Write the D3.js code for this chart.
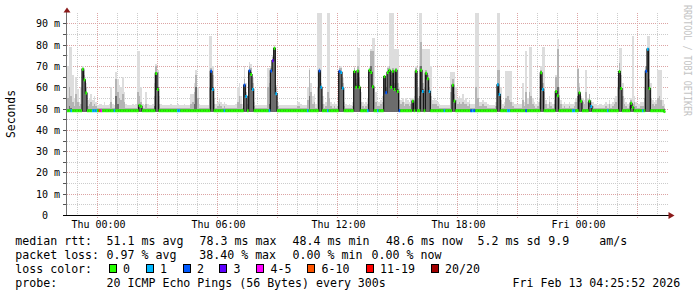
<!DOCTYPE html>
<html>
<head>
<meta charset="utf-8">
<script src="https://cdn.jsdelivr.net/npm/d3@7"></script>
<style>
  body { margin: 0; background: #ffffff; }
  svg text { font-family: "DejaVu Sans Mono", "Liberation Mono", monospace; }
</style>
</head>
<body>
<svg id="chart" width="697" height="297"></svg>
<script>
/* one sample every 300s, starting Wed 22:30 */
let medianRtt = [
  49,49,49,49,49,49,49,49,49,68.5,
  63.5,57.3,49,49,49,49,49,49,49,49,
  49,49,49,49,49,49,49,49,49,49,
  49,49,49,49,49,49,49,49,49,49,
  49,49,49,51.5,51,49,49,49,49,49,
  49,49,49,66.5,59,49,49,49,49,49,
  49,49,49,49,49,49,49,49,49,49,
  49,49,49,49,49,49,49,49,49,49,
  49,49,49,49,49,49,67.5,59,49,49,
  49,49,49,49,49,49,49,49,49,49,
  49,49,49,49,49,49,61,55.7,49,67.7,
  66,59,49,49,49,49,49,49,49,49,
  49,49,67.7,72.5,78.3,57,49,49,49,49,
  49,49,49,49,49,49,49,49,49,49,
  49,49,49,49,49,49,49,49,49,49,
  49,67.7,60,49,49,49,49,49,49,49,
  49,49,49,67.5,67,59.5,49,49,49,49,
  49,49,67.4,60,67.7,60,49,49,49,49,
  49,68,67,60.3,49,49,49,49,49,49,
  65,57.4,67,68,60,67.5,59,68,58,49,
  49,49,49,49,49,49,49,53.5,49,67.5,
  49,49,68,58,49,66.6,64,58,49,49,
  49,49,49,49,49,49,49,49,49,49,
  49,61,53.5,49,49,49,49,49,49,49,
  49,49,49,49,49,49,49,49,49,49,
  49,49,49,49,49,49,49,49,61.2,56.6,
  49,49,49,49,49,49,49,49,49,49,
  49,49,49,49,49,49,49,49,49,49,
  49,49,49,49,66.8,59,49,49,49,49,
  49,49,49,58,56,49,49,49,49,49,
  49,49,49,49,49,49,49,57.4,53.5,49,
  49,49,49,53.5,51,49,49,49,49,49,
  49,49,49,49,49,49,49,49,49,49,
  49,67.4,59.4,49,49,49,49,49,52.5,50.5,
  49,49,49,49,49,49,49,67.5,77.9,59.4,
  49,49,49,49,49,49,49,49,48.6
];

/* lost pings (of 20) per sample */
let lostPings = [
  0,0,1,0,0,0,0,0,0,0, 0,0,0,0,0,1,1,1,0,8,
  4,0,0,0,0,0,0,0,1,0, 0,0,0,0,0,0,0,0,0,0,
  0,0,0,0,0,0,0,0,0,0, 0,0,0,0,0,0,0,0,0,0,
  0,0,0,0,0,0,1,1,0,0, 0,0,0,0,0,0,0,0,0,0,
  0,0,0,0,0,0,2,1,0,0, 0,0,0,0,1,0,0,0,0,0,
  0,0,0,0,0,0,2,1,0,2, 0,1,0,0,0,0,0,0,0,0,
  0,1,2,3,0,1,0,0,0,0, 0,0,0,0,0,0,0,0,0,0,
  0,0,0,0,1,0,0,0,0,0, 0,2,1,0,0,0,1,0,0,0,
  0,0,0,2,1,1,0,0,0,0, 0,0,0,0,0,0,0,0,0,0,
  1,0,0,0,0,0,1,0,0,0, 0,2,0,0,0,0,0,0,0,2,
  0,0,0,0,0,0,0,0,0,0, 0,0,0,1,0,0,0,1,0,0,
  0,0,0,0,0,0,1,0,0,0, 0,0,0,0,0,0,0,0,0,0,
  0,0,2,1,2,0,0,0,0,0, 0,0,0,0,0,0,0,0,1,1,
  0,0,0,0,1,1,0,0,0,0, 0,0,0,0,0,2,0,0,0,0,
  0,0,0,0,0,1,0,0,0,0, 0,0,0,0,0,0,0,0,0,0,
  0,0,0,1,1,0,0,0,0,0, 0,0,0,0,1,0,0,0,0,0,
  0,0,0,0,1,0,0,0,0,0, 0,0,0,0,0,0,0,0,0,0,
  0,0,0,0,0,1,0,2,1,0, 0,0,0,0,0,0,0,0,0
];

/* smoke: slowest ping, upper spread, core spread */
let smokeMax = [
  70,79,79,66,55,65,59,53,60,70,
  68,62,54,55,57,54,56,53,51.5,52,
  52,51.5,53,51.5,51.5,52,60,52,51.5,67,
  64,61,60,65,58,52,51.5,51.5,51.5,52,
  51.5,52,77,77,60,52,51.5,58,52,51.5,
  51.5,52,62,71,68,56,52,51.5,51.5,51.5,
  51.5,51.5,52,51.5,51.5,51.5,52,51.5,51.5,51.5,
  52,51.5,51.5,51.5,57,57,62,68,60,52,
  51.5,51.5,51.5,51.5,51.5,84,84,70,55,52,
  53,55,53,52,53,52,51.5,51.5,51.5,51.5,
  51.5,52,60,62,56,52,70,62,56,72,
  71,65,53,51.5,51.5,51.5,51.5,51.5,51.5,51.5,
  69,69,70,75,80,61,53,51.5,51.5,51.5,
  51.5,51.5,51.5,51.5,51.5,51.5,51.5,51.5,53,53,
  52,51.5,51.5,51.5,60,69,62,56,57,52,
  95,95,95,56,52,53,95,95,53,52,
  53,52,53,69.5,70,65,53,52,51.5,52,
  51.5,53,70,64,78.4,78.4,58,53,52,53,
  55,70,78,83,83,58,53,53,54,56,
  66,60,70,95,95,95,78,78,78,60,
  54,55,53,55,54,53,55,55,56,70,
  60,95,95,78,78,78,78,78,70,54,
  55,54,53,52,51.5,51.5,51.5,51.5,51.5,51.5,
  67,67,67,60,55,56,55,57,54,55,
  53,54,52,52,52,95,95,53,53,54,
  53,53,52,51.5,51.5,51.5,51.5,53,95,95,
  60,52,53,67.5,67.5,67.5,67.5,53,52,52,
  52,52,52,62,53,77,55,79,79,55,
  53,52,53,55,70,79,79,54,52,56,
  53,52,54,66,82.6,60,54,52,53,52,
  52,53,52,52,53,55,69,62,56,55,
  54,68,55,57,54,53,52,52,51.5,52,
  52,51.5,52,53,52,54,52,53,55,56,
  65,78.5,78.5,62,55,53,52,53,55,84,
  56,53,52,52,53,53,60,70,84,84,
  62,54,53,54,68,68,68,54,52
];

let smokeMid = [
  55,60,56,53,51,57,53,51,52,69,
  66,60,51,52,53,51,52,51,50.3,50.5,
  50.5,50.3,50.3,50.3,50.3,50.3,53,50.3,50.3,64,
  58,55,54,57,53,50.3,50.3,50.3,50.3,50.3,
  50.3,50.3,58,56,53,50.3,50.3,52,50.3,50.3,
  50.3,50.3,56,70,67,52,50.3,50.3,50.3,50.3,
  50.3,50.3,50.3,50.3,50.3,50.3,50.3,50.3,50.3,50.3,
  50.3,50.3,50.3,50.3,52,53,58,66,55,50.5,
  50.3,50.3,50.3,50.3,50.3,60,69,66,52,50.3,
  51,52,51,50.3,51,50.3,50.3,50.3,50.3,50.3,
  50.3,50.3,53,56,52,50.3,64,58,52,70,
  69,62,51,50.3,50.3,50.3,50.3,50.3,50.3,50.3,
  60,62,69,74,79,60,51,50.3,50.3,50.3,
  50.3,50.3,50.3,50.3,50.3,50.3,50.3,50.3,51,51,
  50.3,50.3,50.3,50.3,54,68,58,52,53,50.3,
  60,69,62,52,50.3,51,58,55,51,50.3,
  51,50.3,51,69,69,62,51,50.3,50.3,50.3,
  50.3,51,69,62,70,65,53,51,50.3,51,
  52,69,77,77,60,53,51,51,52,53,
  66,60,69,70,66,69,62,69,62,54,
  52,53,51,52,52,51,52,54,53,69,
  55,70,81.5,62,60,68,66,60,56,52,
  52,52,51,50.5,50.3,50.3,50.3,50.3,50.3,50.3,
  58,64,57,54,52,53,52,53,52,52,
  51,52,50.5,50.5,50.5,60,55,51,51,52,
  51,51,50.5,50.3,50.3,50.3,50.3,51,68,68,
  54,50.5,51,55,56,54,53,51,50.5,50.5,
  50.5,50.5,50.5,54,51,58,52,58,56,52,
  51,50.5,51,53,68,62,58,52,50.5,53,
  51,50.5,52,65,78,55,52,50.5,51,50.5,
  50.5,51,50.5,50.5,51,53,68.7,60,55,53,
  52,58,53,57,53,51,50.5,50.5,50.3,50.5,
  50.5,50.3,50.5,51,50.5,52,50.5,51,52,53,
  60,71.5,66,56,52,51,50.5,51,54,52,
  53,51,50.5,50.5,51,51,55,70,78.6,64,
  55,52,51,52,55,56,54,51,50.5
];

let smokeCore = [
  49.6,51,50.5,49.6,49.6,49.6,49.6,49.6,49.6,68.5,
  64,58,49.6,49.6,49.6,49.6,49.6,49.6,49.6,49.6,
  49.6,49.6,49.6,49.6,49.6,49.6,49.6,49.6,49.6,56,
  52,49.6,49.6,49.6,49.6,49.6,49.6,49.6,49.6,49.6,
  49.6,49.6,49.6,52,51.5,49.6,49.6,49.6,49.6,49.6,
  49.6,49.6,51,67,60,49.6,49.6,49.6,49.6,49.6,
  49.6,49.6,49.6,49.6,49.6,49.6,49.6,49.6,49.6,49.6,
  49.6,49.6,49.6,49.6,49.6,49.6,52,60,49.6,49.6,
  49.6,49.6,49.6,49.6,49.6,49.6,68,60,49.6,49.6,
  49.6,49.6,49.6,49.6,49.6,49.6,49.6,49.6,49.6,49.6,
  49.6,49.6,49.6,49.6,49.6,49.6,61.5,56,49.6,68,
  67,59.5,49.6,49.6,49.6,49.6,49.6,49.6,49.6,49.6,
  49.6,52,68,73,78.5,57.5,49.6,49.6,49.6,49.6,
  49.6,49.6,49.6,49.6,49.6,49.6,49.6,49.6,49.6,49.6,
  49.6,49.6,49.6,49.6,49.6,56,49.6,49.6,49.6,49.6,
  49.6,68,60.5,49.6,49.6,49.6,49.6,49.6,49.6,49.6,
  49.6,49.6,49.6,68,67.5,60,49.6,49.6,49.6,49.6,
  49.6,49.6,68,61,68,61,49.6,49.6,49.6,49.6,
  49.6,68.5,70,61,49.6,49.6,49.6,49.6,49.6,49.6,
  65.5,58,67.5,68.5,61,68,60,68.5,59,49.6,
  49.6,49.6,49.6,49.6,49.6,49.6,49.6,54,49.6,68,
  49.6,56,70,59,49.6,67,64.5,58.5,49.6,49.6,
  49.6,49.6,49.6,49.6,49.6,49.6,49.6,49.6,49.6,49.6,
  49.6,61.5,54,49.6,49.6,49.6,49.6,49.6,49.6,49.6,
  49.6,49.6,49.6,49.6,49.6,49.6,49.6,49.6,49.6,49.6,
  49.6,49.6,49.6,49.6,49.6,49.6,49.6,49.6,62,57,
  49.6,49.6,49.6,49.6,49.6,49.6,49.6,49.6,49.6,49.6,
  49.6,49.6,49.6,49.6,49.6,49.6,49.6,49.6,49.6,49.6,
  49.6,49.6,49.6,49.6,67.5,59.5,49.6,49.6,49.6,49.6,
  49.6,49.6,49.6,58.5,60,49.6,49.6,49.6,49.6,49.6,
  49.6,49.6,49.6,49.6,49.6,49.6,56,58,54,49.6,
  49.6,49.6,49.6,54,51.5,49.6,49.6,49.6,49.6,49.6,
  49.6,49.6,49.6,49.6,49.6,49.6,49.6,49.6,49.6,49.6,
  49.6,68,60,49.6,49.6,49.6,49.6,49.6,53,51,
  49.6,49.6,49.6,49.6,49.6,49.6,49.6,68,78.3,60,
  49.6,49.6,49.6,49.6,49.6,49.6,49.6,49.6,49.6
];
let smokeFloor = 48.3;

let yTickValues = [0, 10, 20, 30, 40, 50, 60, 70, 80, 90];
let yTickLabels = ["0", "10 m", "20 m", "30 m", "40 m", "50 m", "60 m", "70 m", "80 m", "90 m"];
let xTickLabels = ["Thu 00:00", "Thu 06:00", "Thu 12:00", "Thu 18:00", "Fri 00:00"];

let rttStats = ["51.1 ms avg", "78.3 ms max", "48.4 ms min", "48.6 ms now", "5.2 ms sd", "9.9", "am/s"];
let lossStats = ["0.97 % avg", "38.40 % max", "0.00 % min", "0.00 % now"];
let lossBins = ["0", "1", "2", "3", "4-5", "6-10", "11-19", "20/20"];
let lossBinMax = [0, 1, 2, 3, 5, 10, 19, 20];
let lossBinColors = ["#26ff00", "#00b8ff", "#0059ff", "#5e00ff", "#ff00ff", "#ff5500", "#ff0000", "#a10000"];
let probeText = "20 ICMP Echo Pings (56 Bytes) every 300s";
let stampText = "Fri Feb 13 04:25:52 2026";

let svg = d3.select("svg#chart");

let t0 = new Date(2026, 1, 11, 22, 30);
let tEnd = new Date(2026, 1, 13, 4, 30);
let stepMs = 300 * 1000;
let timeAt = i => new Date(t0.getTime() + i * stepMs);
let n = medianRtt.length;

let xScale = d3.scaleTime().domain([t0, tEnd]).range([67, 667]);
let yScale = d3.scaleLinear().domain([0, 95]).range([215, 12.8]);

/* grid */
let grid = svg.append("g").attr("shape-rendering", "crispEdges");
d3.range(5, 95, 5).forEach(v => {
    let yy = Math.round(yScale(v)) + 0.5;
    grid.append("line")
        .attr("x1", 67).attr("x2", 668).attr("y1", yy).attr("y2", yy)
        .attr("stroke", v % 10 == 0 ? "#dca4a4" : "#cccccc")
        .attr("stroke-dasharray", "1,1");
    grid.append("line")
        .attr("x1", 63).attr("x2", 66).attr("y1", yy).attr("y2", yy)
        .attr("stroke", "#555555");
});
d3.timeHour.range(t0, tEnd).forEach(h => {
    let xx = Math.round(xScale(h)) + 0.5;
    let major = h.getHours() % 3 == 0;
    grid.append("line")
        .attr("x1", xx).attr("x2", xx).attr("y1", 13).attr("y2", major ? 219 : 215)
        .attr("stroke", major ? "#dca4a4" : "#cccccc")
        .attr("stroke-dasharray", "1,1");
});

/* smoke */
let idx = d3.range(n + 1);
let smokeArea = arr => d3.area()
    .x(i => xScale(timeAt(i)))
    .y0(yScale(smokeFloor))
    .y1(i => yScale(arr[Math.min(i, n - 1)]))
    .curve(d3.curveStepAfter);

let smokeG = svg.append("g").attr("shape-rendering", "crispEdges");
[[smokeMax, "#dddddd"], [smokeMid, "#b4b4b4"], [smokeCore, "#6c6c6c"]].forEach(layer => {
    smokeG.append("path")
        .datum(idx)
        .attr("d", smokeArea(layer[0]))
        .attr("fill", layer[1]);
});

/* median line */
svg.append("path")
    .datum(idx)
    .attr("d", d3.line()
        .x(i => xScale(timeAt(i)))
        .y(i => yScale(medianRtt[Math.min(i, n - 1)]))
        .curve(d3.curveStepAfter))
    .attr("fill", "none")
    .attr("stroke", "#111111")
    .attr("stroke-width", 1.2);

let lossColor = lost => lossBinColors[lossBinMax.findIndex(m => lost <= m)];

svg.append("g").selectAll("line")
    .data(medianRtt)
    .join("line")
    .attr("x1", (d, i) => xScale(timeAt(i)))
    .attr("x2", (d, i) => xScale(timeAt(i + 1)))
    .attr("y1", d => yScale(d))
    .attr("y2", d => yScale(d))
    .attr("stroke", (d, i) => lossColor(lostPings[i]))
    .attr("stroke-width", 3);

/* axes */
svg.append("line")
    .attr("x1", 66.5).attr("x2", 66.5).attr("y1", 12).attr("y2", 215)
    .attr("stroke", "#707070");
svg.append("line")
    .attr("x1", 63).attr("x2", 670).attr("y1", 215.5).attr("y2", 215.5)
    .attr("stroke", "#000000");
svg.append("path")
    .attr("d", "M63.5,12.5 L67,7.5 L70.5,12.5 Z")
    .attr("fill", "#8b1a1a");
svg.append("path")
    .attr("d", "M668.5,212 L674.5,215.5 L668.5,219 Z")
    .attr("fill", "#8b1a1a");

let xLabelTimes = [new Date(2026, 1, 12, 0), new Date(2026, 1, 12, 6), new Date(2026, 1, 12, 12),
                   new Date(2026, 1, 12, 18), new Date(2026, 1, 13, 0)];
let xAxis = d3.axisBottom(xScale)
    .tickValues(xLabelTimes)
    .tickSize(0)
    .tickPadding(5.5)
    .tickFormat((d, i) => xTickLabels[i]);
let xAxisG = svg.append("g").attr("transform", "translate(0,215)").call(xAxis);

let yAxis = d3.axisLeft(yScale)
    .tickValues(yTickValues)
    .tickSize(0)
    .tickPadding(7)
    .tickFormat((d, i) => yTickLabels[i]);
let yAxisG = svg.append("g").attr("transform", "translate(67,0)").call(yAxis);

d3.selectAll("path.domain").remove();
[xAxisG, yAxisG].forEach(g => g.attr("font-family", null).attr("font-size", null));
xAxisG.selectAll(".tick text").attr("font-size", "10px").attr("fill", "#000").attr("dx", 1);
yAxisG.selectAll(".tick text").attr("font-size", "10px").attr("fill", "#000")
    .attr("dy", "0.35em")
    .attr("x", d => d == 0 ? -19 : -7);

/* titles */
svg.append("text")
    .attr("transform", "translate(15,114) rotate(-90)")
    .attr("text-anchor", "middle")
    .attr("font-size", "11.4px")
    .text("Seconds");

svg.append("text")
    .attr("transform", "translate(683.5,5) rotate(90) scale(1,1.2)")
    .attr("font-size", "8.4px")
    .attr("fill", "#c4c4c4")
    .text("RRDTOOL / TOBI OETIKER");

/* legend */
let legend = svg.append("g").attr("font-size", "11.6px").attr("fill", "#000");
let rowY = [245, 259, 273, 287];
let put = (txt, xx, yy) => legend.append("text").attr("x", xx).attr("y", yy)
    .attr("xml:space", "preserve").text(txt);

put("median rtt:", 15.3, rowY[0]);
[106.6, 199.6, 292.6, 386, 477.6, 548.3, 599.3].forEach((xx, i) => put(rttStats[i], xx, rowY[0]));

put("packet loss:", 15.3, rowY[1]);
[106.6, 199.3, 292.6, 371.6].forEach((xx, i) => put(lossStats[i], xx, rowY[1]));

put("loss color:", 15.3, rowY[2]);
[108.7, 145.7, 182.7, 219.3, 256.3, 307.3, 365.7, 430.7].forEach((xx, i) => {
    legend.append("rect")
        .attr("x", Math.round(xx) + 0.5).attr("y", 264.5)
        .attr("width", 7).attr("height", 8)
        .attr("fill", lossBinColors[i])
        .attr("stroke", "#000").attr("stroke-width", 1);
    put(lossBins[i], xx + 14.3, rowY[2]);
});

put("probe:", 15.3, rowY[3]);
put(probeText, 106.6, rowY[3]);
put(stampText, 512.6, rowY[3]);
</script>
</body>
</html>
